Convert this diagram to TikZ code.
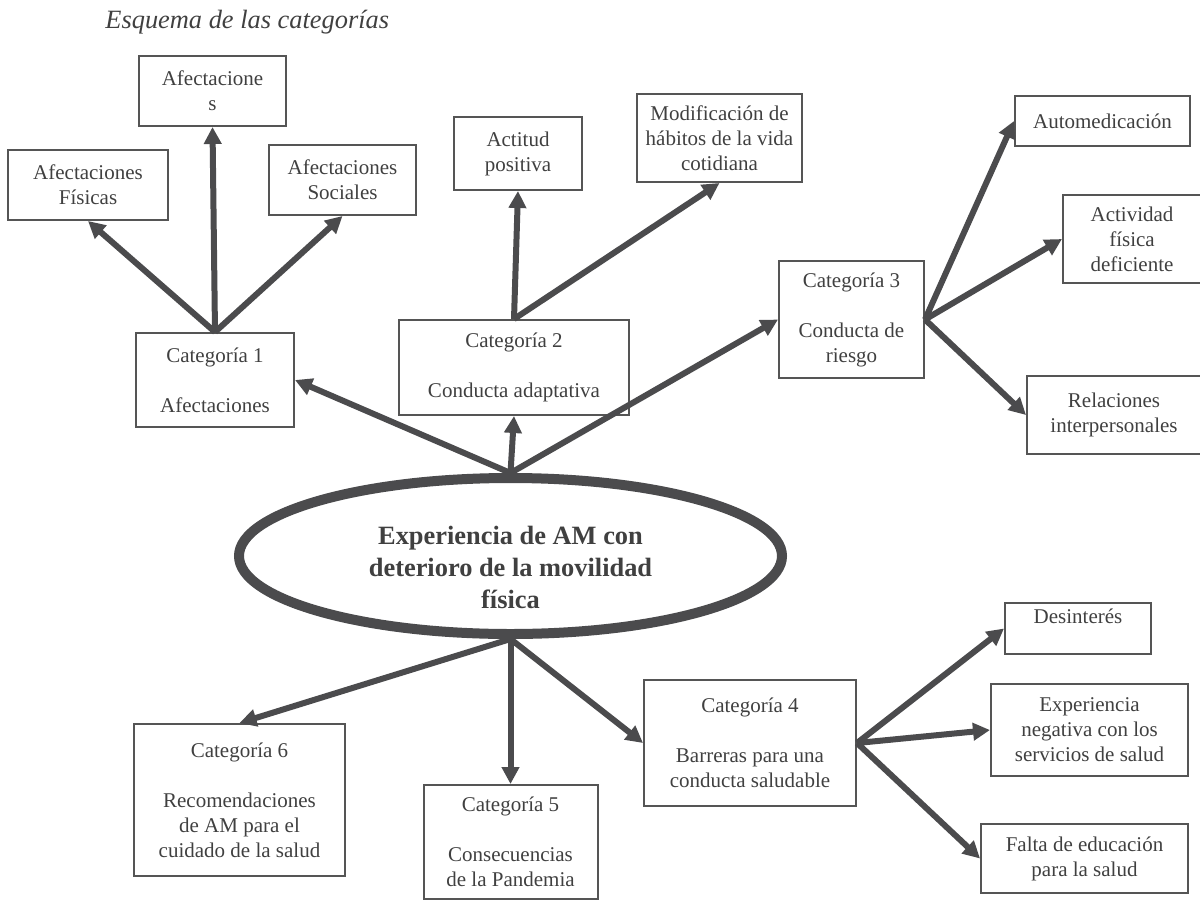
\documentclass[tikz,border=0pt]{standalone}
\usepackage{fontspec}
\setmainfont{Liberation Serif}
\usepackage{xcolor}
\usepackage{tikz}
\usetikzlibrary{arrows.meta, positioning, shapes.geometric}

\definecolor{trazo}{HTML}{4B4B4D}
\definecolor{borde}{HTML}{555555}
\definecolor{texto}{HTML}{404040}

\begin{document}
\begin{tikzpicture}[
    x=0.5pt, y=-0.5pt,
    caja/.style 2 args={
        rectangle, draw=borde, line width=1pt,
        minimum width=#1, minimum height=#2, inner sep=1pt,
        align=center, text=texto, font=\fontsize{10.5}{12.5}\selectfont
    },
    nucleo/.style={
        ellipse, draw=trazo, line width=5pt, inner sep=0pt,
        minimum width=271.5pt, minimum height=78pt
    },
    nucleotxt/.style={
        align=center, text=texto, yshift=-5.5pt,
        font=\fontsize{13.2}{16}\selectfont\bfseries
    },
    titulo/.style={
        anchor=base west, inner sep=0pt, text=texto,
        font=\fontsize{13.2}{16}\selectfont\itshape
    },
    flecha/.style={-{Triangle[length=8.5pt, width=8.5pt]}, line width=3pt, draw=trazo}
]
\useasboundingbox (0,0) rectangle (1200,900);

% Titulo
\node[titulo] (tit) at (105,28) {Esquema de las categorías};

% Nucleo central
\node[nucleo, label={[nucleotxt]center:Experiencia de AM con\\deterioro de la movilidad\\física}] (exp) at (510.5,556) {};

% Categorias arriba
\node[caja={79pt}{47pt}, above=22.5pt of exp, xshift=-147.75pt] (cat1) {Categoría 1\\[12.5pt]Afectaciones};
\node[caja={115pt}{47.5pt}, above=28.5pt of exp, xshift=1.75pt] (cat2) {Categoría 2\\[12.5pt]Conducta adaptativa};
\node[caja={72.5pt}{58.5pt}, above=47pt of exp, xshift=170.5pt] (cat3) {Categoría 3\\[12.5pt]Conducta de\\riesgo};

% Categorias abajo
\node[caja={105.5pt}{76pt}, below=42pt of exp, xshift=-135.5pt] (cat6) {Categoría 6\\[12.5pt]Recomendaciones\\de AM para el\\cuidado de la salud};
\node[caja={87pt}{57pt}, below=72.5pt of exp] (cat5) {Categoría 5\\[12.5pt]Consecuencias\\de la Pandemia};
\node[caja={106pt}{63pt}, below=20pt of exp, xshift=119.75pt] (cat4) {Categoría 4\\[12.5pt]Barreras para una\\conducta saludable};

% Subcategorias de la categoria 1
\node[caja={80pt}{35pt}, above=55.5pt of cat1, xshift=-63.5pt] (fisicas) {Afectaciones\\Físicas};
\node[caja={73.5pt}{35pt}, above=102.5pt of cat1, xshift=-1.25pt] (afect) {Afectacione\\s};
\node[caja={73.5pt}{35pt}, above=58pt of cat1, xshift=63.75pt] (sociales) {Afectaciones\\Sociales};

% Subcategorias de la categoria 2
\node[caja={64pt}{36.5pt}, above=64pt of cat2, xshift=2pt] (actitud) {Actitud\\positiva};
\node[caja={82.5pt}{44pt}, above=68pt of cat2, xshift=102.75pt] (habitos) {Modificación de\\hábitos de la vida\\cotidiana};

% Subcategorias de la categoria 3
\node[caja={87.5pt}{25pt}, right=44.5pt of cat3, yshift=99.25pt] (automed) {Automedicación};
\node[caja={69pt}{44pt}, right=68.5pt of cat3, yshift=40.25pt] (actfis) {Actividad\\física\\deficiente};
\node[caja={87pt}{39pt}, right=50.5pt of cat3, yshift=-47.75pt] (relac) {Relaciones\\interpersonales};

% Subcategorias de la categoria 4
\node[caja={73pt}{25.5pt}, right=73.5pt of cat4, yshift=57.25pt] (desint) {Desinterés\\~};
\node[caja={98.5pt}{46pt}, right=66.5pt of cat4, yshift=6.5pt] (expneg) {Experiencia\\negativa con los\\servicios de salud};
\node[caja={103.5pt}{34.5pt}, right=61.5pt of cat4, yshift=-57.75pt] (falta) {Falta de educación\\para la salud};

% Flechas desde el nucleo
\draw[flecha] (exp.north) -- (cat1.east);
\draw[flecha] (exp.north) -- (cat2.south);
\draw[flecha] (exp.north) -- (cat3.west);
\draw[flecha] (exp.south) -- (cat6.north);
\draw[flecha] (exp.south) -- (cat5.north);
\draw[flecha] (exp.south) -- (cat4.west);

% Flechas hacia las subcategorias
\draw[flecha] (cat1.north) -- (fisicas.south);
\draw[flecha] (cat1.north) -- (afect.south);
\draw[flecha] (cat1.north) -- (sociales.south);
\draw[flecha] (cat2.north) -- (actitud.south);
\draw[flecha] (cat2.north) -- (habitos.south);
\draw[flecha] (cat3.east) -- (automed.west);
\draw[flecha] (cat3.east) -- (actfis.west);
\draw[flecha] (cat3.east) -- (relac.west);
\draw[flecha] (cat4.east) -- (desint.west);
\draw[flecha] (cat4.east) -- (expneg.west);
\draw[flecha] (cat4.east) -- (falta.west);

\end{tikzpicture}
\end{document}
